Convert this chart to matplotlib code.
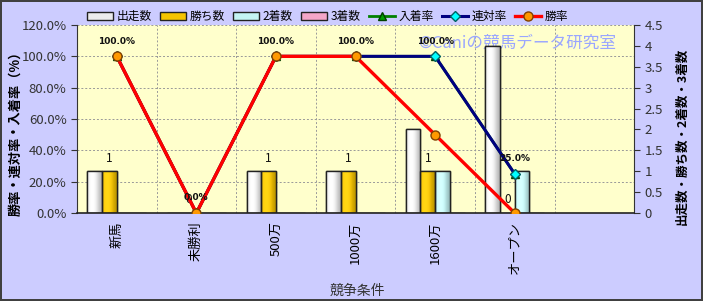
import numpy as np
import matplotlib
matplotlib.use('Agg')
import matplotlib.pyplot as plt
from matplotlib.ticker import FuncFormatter, MultipleLocator
from matplotlib.colors import to_rgb

plt.rcParams['font.family'] = ['Noto Sans CJK JP', 'DejaVu Sans']

categories = ['新馬', '未勝利', '500万', '1000万', '1600万', 'オープン', '']
starts = [1, 0, 1, 1, 2, 4]
wins = [1, 0, 1, 1, 1, 0]
seconds = [0, 0, 0, 0, 1, 1]
thirds = [0, 0, 0, 0, 0, 0]
place_rate = [100.0, 0.0, 100.0, 100.0, 100.0, 25.0]
quinella_rate = [100.0, 0.0, 100.0, 100.0, 100.0, 25.0]
win_rate = [100.0, 0.0, 100.0, 100.0, 50.0, 0.0]

bg = '#ccccff'
plot_bg = '#ffffcc'
ymax_pct = 120
ymax_cnt = 4.5

fig = plt.figure(figsize=(7.03, 3.01), dpi=100, facecolor=bg,
                 edgecolor='#404040', linewidth=1.5)
ax = fig.add_axes([0.1095, 0.292, 0.7925, 0.625])
ax2 = ax.twinx()
ax.set_zorder(ax2.get_zorder() + 1)
ax.patch.set_visible(False)
ax2.patch.set_visible(True)
ax2.set_facecolor(plot_bg)

x = np.arange(len(starts))
w = 0.185


def shade(col):
    # cylinder-like horizontal shading for a bar
    base = np.array(to_rgb(col))
    t = np.linspace(0, 1, 32)
    k = 1.0 - 1.6 * (t - 0.35) ** 2
    img = np.clip(base[None, :] * (0.62 + 0.38 * k[:, None]) + 0.25 * np.maximum(k[:, None] - 0.7, 0), 0, 1)
    return img[None, :, :]


# dashed grid on the back axes, behind the bars
for gx in np.arange(0.5, len(categories) - 0.5, 1):
    ax2.axvline(gx, color='#999999', ls=(0, (2, 2)), lw=0.7, zorder=0.5)
for gy in np.arange(20, ymax_pct + 1, 20):
    ax2.axhline(gy * ymax_cnt / ymax_pct, color='#999999', ls=(0, (2, 2)), lw=0.7, zorder=0.5)

bar_sets = [
    (starts, '#ececec', '出走数'),
    (wins, '#f5c400', '勝ち数'),
    (seconds, '#c4f4f4', '2着数'),
    (thirds, '#f4a6c8', '3着数'),
]
handles = []
for i, (vals, col, lab) in enumerate(bar_sets):
    b = ax2.bar(x + (i - 1.5) * w, vals, w, color=col, edgecolor='#222222',
                linewidth=1.0, label=lab, zorder=3)
    handles.append(b)
    for r in b.patches:
        if r.get_height() <= 0:
            continue
        x0, y0 = r.get_x(), r.get_y()
        im = ax2.imshow(shade(col), extent=(x0, x0 + r.get_width(), y0, y0 + r.get_height()),
                        aspect='auto', zorder=3.1, interpolation='bilinear')
        im.set_clip_path(r)
        edge = plt.Rectangle((x0, y0), r.get_width(), r.get_height(), fill=False,
                             edgecolor='#222222', linewidth=1.0, zorder=3.2)
        ax2.add_patch(edge)

# count labels above the win bars
for xi, v in zip(x, wins):
    ax2.annotate(str(v), (xi - 0.5 * w, v), xytext=(0, 9.5),
                 textcoords='offset points', ha='center', va='center',
                 fontsize=8.5, color='#111111', zorder=5)

l1, = ax.plot(x, place_rate, '-^', color='#008000', lw=2, ms=6,
              mfc='#00a000', mec='#004000', label='入着率', zorder=4)
l2, = ax.plot(x, quinella_rate, '-D', color='#000080', lw=2.2, ms=5,
              mfc='#00ffff', mec='#006060', label='連対率', zorder=5)
l3, = ax.plot(x, win_rate, '-o', color='#ff0000', lw=2.4, ms=6.5,
              mfc='#ff9900', mec='#804000', label='勝率', zorder=6)

for xi, v in zip(x, quinella_rate):
    ax.annotate(f'{v:.1f}%', (xi, v), xytext=(0, 11),
                textcoords='offset points', ha='center', va='center',
                fontsize=6.5, fontweight='bold', color='#111111',
                family='DejaVu Sans', zorder=7)

ax.set_xlim(-0.5, len(categories) - 0.5)
ax2.set_xlim(-0.5, len(categories) - 0.5)
ax.set_ylim(0, ymax_pct)
ax2.set_ylim(0, ymax_cnt)
ax.yaxis.set_major_locator(MultipleLocator(20))
ax.yaxis.set_major_formatter(FuncFormatter(lambda v, p: f'{v:.1f}%'))
ax2.yaxis.set_major_locator(MultipleLocator(0.5))
ax2.yaxis.set_major_formatter(FuncFormatter(lambda v, p: f'{v:g}'))

ax.set_xticks(np.arange(len(categories)))
ax.set_xticklabels(categories, rotation=90, fontsize=9.5)
ax.tick_params(axis='x', which='both', length=0, pad=6)

for a in (ax, ax2):
    a.spines['top'].set_visible(False)
    a.tick_params(axis='y', which='major', labelsize=9.5, labelcolor='#333333',
                  length=4, color='#333333')
ax.spines['right'].set_visible(False)
ax2.spines['left'].set_visible(False)
ax2.spines['bottom'].set_visible(False)
ax2.spines['right'].set_color('#333333')
ax.spines['left'].set_color('#333333')
ax.spines['bottom'].set_color('#222222')
ax.spines['bottom'].set_linewidth(1.2)

ax.set_ylabel('勝率・連対率・入着率（%）', fontsize=9.5, fontweight='bold')
ax.yaxis.set_label_coords(-0.098, 0.44)
ax2.set_ylabel('出走数・勝ち数・2着数・3着数', fontsize=9, fontweight='bold',
               rotation=90)
ax2.yaxis.set_label_coords(1.075, 0.41)
ax.set_xlabel('競争条件', fontsize=10, color='#333333')
ax.xaxis.set_label_coords(0.503, -0.378)

ax2.text(0.612, 0.9, '©Caniの競馬データ研究室', transform=ax2.transAxes,
         fontsize=12, color='#9aa6ff', ha='left', va='center', zorder=1)

fig.legend(handles + [l1, l2, l3], [h.get_label() for h in handles + [l1, l2, l3]],
           loc='center', bbox_to_anchor=(0.466, 0.945), ncol=7, frameon=False,
           fontsize=8.5, handlelength=2.2, columnspacing=0.7, handletextpad=0.3)

fig.savefig('out.png', dpi=100, facecolor=bg, edgecolor='#404040')
